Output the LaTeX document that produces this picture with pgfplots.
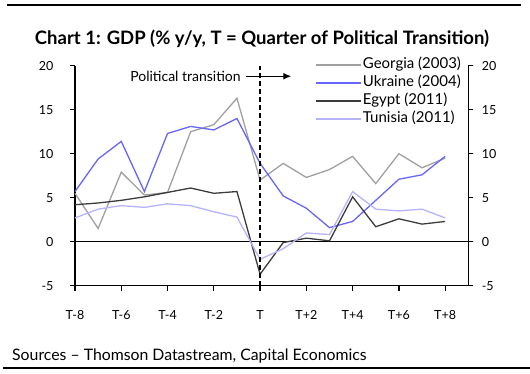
\documentclass[border=0pt]{standalone}
\usepackage{fontspec}
\setmainfont{Lato}
\usepackage{pgfplots}
\pgfplotsset{compat=1.18}
\usetikzlibrary{arrows.meta}
\definecolor{cgeo}{RGB}{160,160,160}
\definecolor{cukr}{RGB}{102,102,250}
\definecolor{cegy}{RGB}{60,60,60}
\definecolor{ctun}{RGB}{180,180,252}
\begin{document}
\begin{tikzpicture}
\useasboundingbox (0bp,0bp) rectangle (530bp,374bp);
\draw[line width=2.5bp] (7bp,369bp) -- (521bp,369bp);
\node[font=\bfseries\fontsize{18.5bp}{20bp}\selectfont, anchor=base, inner sep=0] at (262bp,329bp) {Chart 1: GDP (\% y/y, T = Quarter of Political Transition)};
\draw[line width=2.5bp] (3bp,6bp) -- (530bp,6bp);
\node[anchor=base west, inner sep=0, font=\fontsize{15.8bp}{18bp}\selectfont] at (12bp,13.3bp) {Sources -- Thomson Datastream, Capital Economics};
\begin{axis}[
 at={(75bp,88.3bp)}, anchor=south west, scale only axis, width=393.3bp, height=220bp,
 xmin=-8, xmax=9, ymin=-5, ymax=20,
 axis x line*=bottom, axis y line*=left,
 axis line style={line width=1.5bp, -},
 xtick={-8,-6,...,8}, xticklabels={T-8,T-6,T-4,T-2,T,T+2,T+4,T+6,T+8},
 ytick={-5,0,...,20},
 tick align=outside, major tick length=5bp, tick style={line width=1.2bp, black},
 ticklabel style={font=\fontsize{12.5bp}{14bp}\selectfont},
 /pgf/number format/assume math mode=true,
 xticklabel style={yshift=-16bp},
 yticklabel style={xshift=-13bp},
 clip=false,
 legend style={at={(0.610,1.045)}, anchor=north west, draw=none, fill=none,
   font=\fontsize{15bp}{16bp}\selectfont, row sep=0bp, column sep=0bp, inner sep=0bp,
   nodes={inner sep=1.5bp, text height=11bp, text depth=4bp}},
 legend cell align=left,
 legend image code/.code={\draw[#1] (0bp,0bp) -- (45bp,0bp);},
]
\draw[line width=1.5bp] (axis cs:-8,0) -- (axis cs:9,0);
\addplot[cgeo, line width=1.3bp] coordinates {(-8,5.5)(-7,1.5)(-6,7.9)(-5,5.3)(-4,5.6)(-3,12.5)(-2,13.3)(-1,16.3)(0,7.0)(1,8.9)(2,7.3)(3,8.2)(4,9.7)(5,6.6)(6,10.0)(7,8.4)(8,9.5)};
\addlegendentry{Georgia (2003)}
\addplot[cukr, line width=1.3bp] coordinates {(-8,5.7)(-7,9.4)(-6,11.4)(-5,5.7)(-4,12.3)(-3,13.1)(-2,12.7)(-1,14.0)(0,8.9)(1,5.2)(2,3.8)(3,1.6)(4,2.3)(5,4.7)(6,7.1)(7,7.6)(8,9.7)};
\addlegendentry{Ukraine (2004)}
\addplot[cegy, line width=1.3bp] coordinates {(-8,4.2)(-7,4.4)(-6,4.7)(-5,5.1)(-4,5.6)(-3,6.1)(-2,5.5)(-1,5.7)(0,-3.7)(1,-0.1)(2,0.4)(3,0.1)(4,5.1)(5,1.7)(6,2.6)(7,2.0)(8,2.3)};
\addlegendentry{Egypt (2011)}
\addplot[ctun, line width=1.3bp] coordinates {(-8,2.7)(-7,3.7)(-6,4.1)(-5,3.9)(-4,4.3)(-3,4.1)(-2,3.4)(-1,2.8)(0,-2.0)(1,-0.8)(2,1.0)(3,0.8)(4,5.7)(5,3.7)(6,3.5)(7,3.7)(8,2.7)};
\addlegendentry{Tunisia (2011)}
\draw[line width=1.5bp, dash pattern=on 5bp off 3bp] (axis cs:0,-5) -- (axis cs:0,20);
\node[anchor=east, inner sep=0, font=\fontsize{14bp}{16bp}\selectfont] at (axis cs:-0.83,18.8) {Political transition};
\draw[-{Latex[length=8bp,width=7bp]}, line width=1.5bp] (axis cs:-0.6,18.8) -- (axis cs:1.35,18.8);
\end{axis}
\begin{axis}[
 at={(75bp,88.3bp)}, anchor=south west, scale only axis, width=393.3bp, height=220bp,
 xmin=-8, xmax=9, ymin=-5, ymax=20,
 axis x line=none, axis y line*=right,
 axis line style={line width=1.5bp, -},
 ytick={-5,0,...,20},
 tick align=outside, major tick length=5bp, tick style={line width=1.2bp, black},
 ticklabel style={font=\fontsize{12.5bp}{14bp}\selectfont},
 /pgf/number format/assume math mode=true,
 yticklabel style={xshift=5bp},
]
\addplot[draw=none] coordinates {(0,0)};
\end{axis}
\end{tikzpicture}
\end{document}
